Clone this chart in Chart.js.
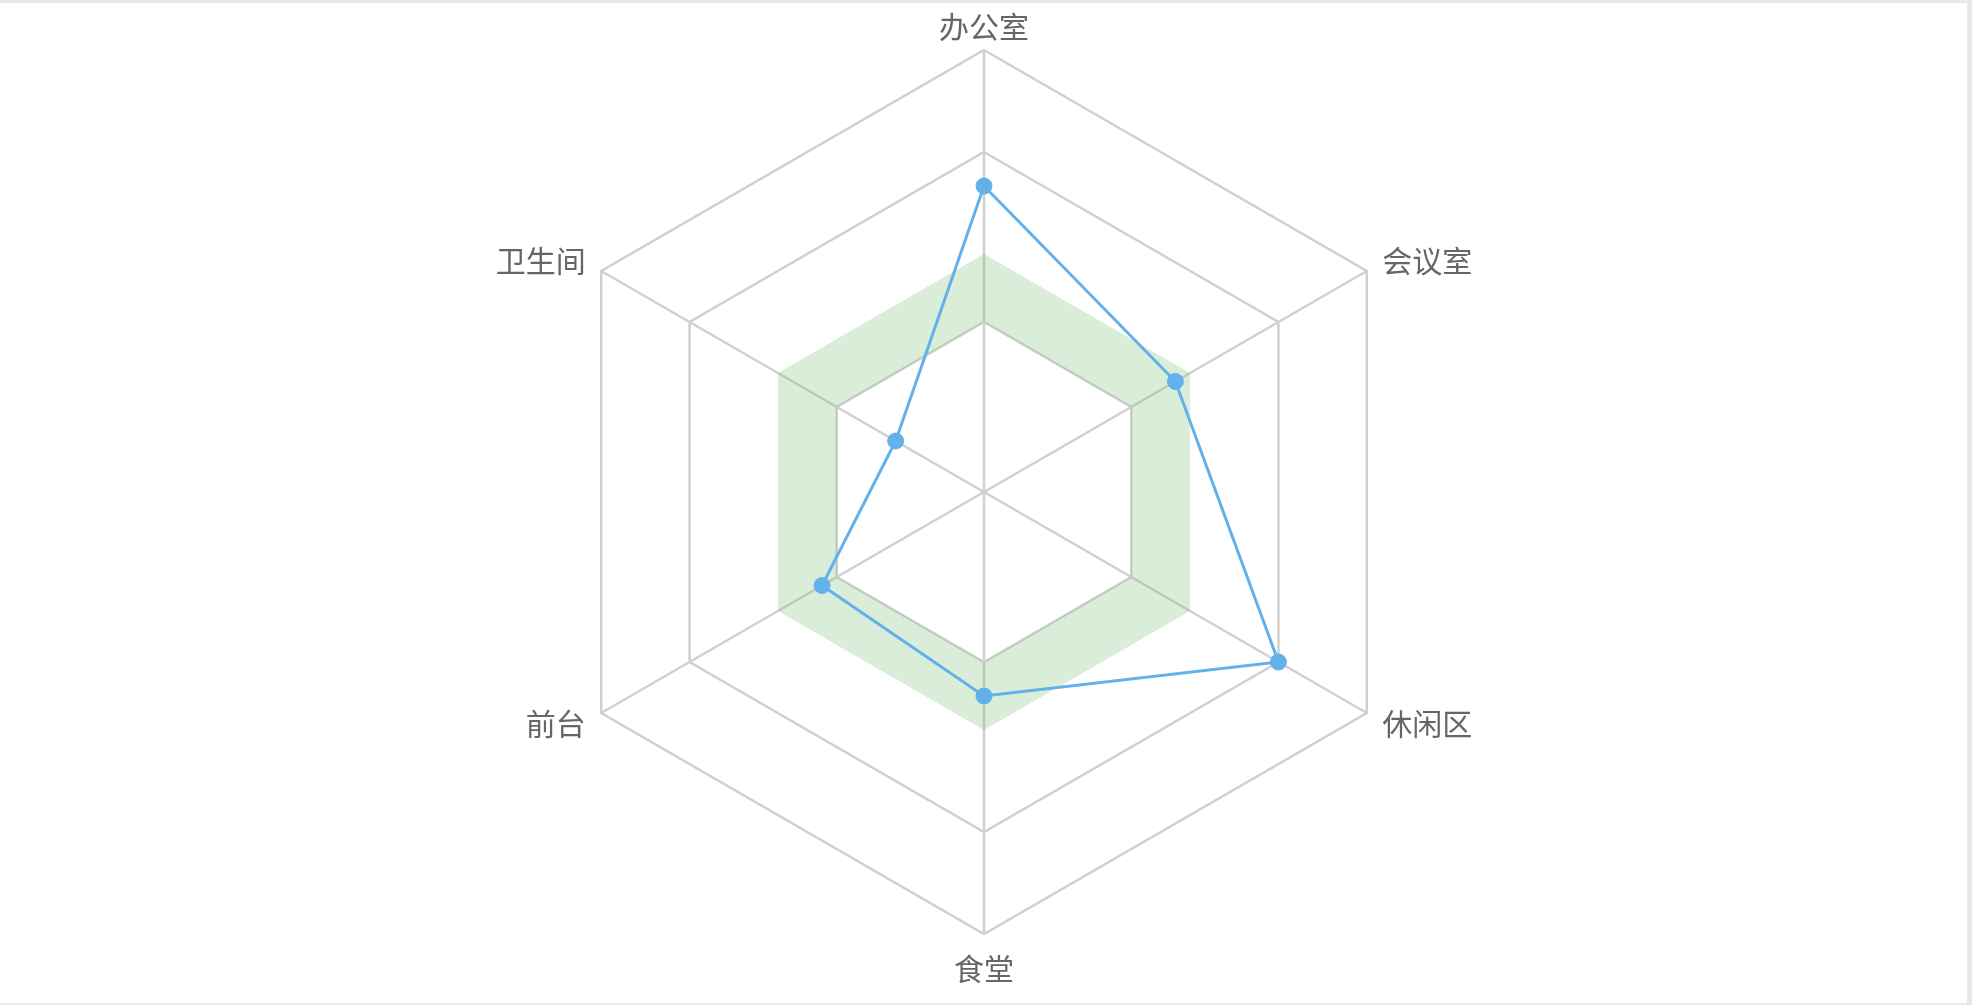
<!DOCTYPE html>
<html>
<head>
<meta charset="utf-8">
<title>区域评分雷达图</title>
<script src="https://cdn.jsdelivr.net/npm/chart.js@4.4.1/dist/chart.umd.min.js"></script>
<style>
  html, body { margin: 0; padding: 0; background: #fff; }
  .chart-box { position: fixed; left: 0; top: 0; width: 1969px; height: 1005px; }
  .frame {
    position: fixed; inset: 0; pointer-events: none;
    border-top: 3px solid #e8e8e8;
    border-right: 5px solid #e8e8e8;
    border-bottom: 2px solid #e8e8e8;
  }
</style>
</head>
<body>
<div class="chart-box"><canvas id="areaRadar"></canvas></div>
<div class="frame"></div>
<script>
const areaLabels = ["办公室", "会议室", "休闲区", "食堂", "前台", "卫生间"];
const scoreValues = [90, 65, 100, 60, 55, 30];
const bandHigh = [70, 70, 70, 70, 70, 70];
const bandLow = [50, 50, 50, 50, 50, 50];
const ringValues = [50, 100, 130];
const scaleMax = 130;

const lineBlue = '#63b1ea';
const gridGray = '#d0d0d0';

const ctx = document.getElementById('areaRadar').getContext('2d');
const areaRadar = new Chart(ctx, {
  type: 'radar',
  data: {
    labels: areaLabels,
    datasets: [{
      label: '评分',
      data: scoreValues,
      borderColor: lineBlue,
      borderWidth: 3,
      pointRadius: 8,
      pointBackgroundColor: lineBlue,
      pointBorderColor: lineBlue,
      pointBorderWidth: 1,
      fill: false
    }, {
      label: '上限',
      data: bandHigh,
      borderWidth: 0,
      borderColor: 'transparent',
      pointRadius: 0,
      backgroundColor: 'rgba(120,190,120,0.28)',
      fill: '+1'
    }, {
      label: '下限',
      data: bandLow,
      borderWidth: 0,
      borderColor: 'transparent',
      pointRadius: 0,
      fill: false
    }]
  },
  options: {
    responsive: true,
    maintainAspectRatio: false,
    animation: false,
    layout: { padding: { top: 20, bottom: 30, left: 0, right: 0 } },
    elements: { line: { tension: 0 } },
    plugins: {
      legend: { display: false },
      tooltip: { enabled: false }
    },
    scales: {
      r: {
        min: 0,
        max: scaleMax,
        ticks: { display: false, stepSize: 10 },
        grid: {
          color: c => ringValues.includes(c.tick.value) ? gridGray : 'transparent',
          lineWidth: 2.5
        },
        angleLines: { color: gridGray, lineWidth: 2.5 },
        pointLabels: {
          color: '#666',
          font: { family: '"Noto Sans CJK SC", "Noto Sans", sans-serif', size: 30, lineHeight: 0.1 },
          // top / bottom labels sit further out than the side ones
          padding: c => c.index === 0 ? 22 : (c.index === 3 ? 33 : 18)
        }
      }
    }
  }
});
</script>
</body>
</html>
